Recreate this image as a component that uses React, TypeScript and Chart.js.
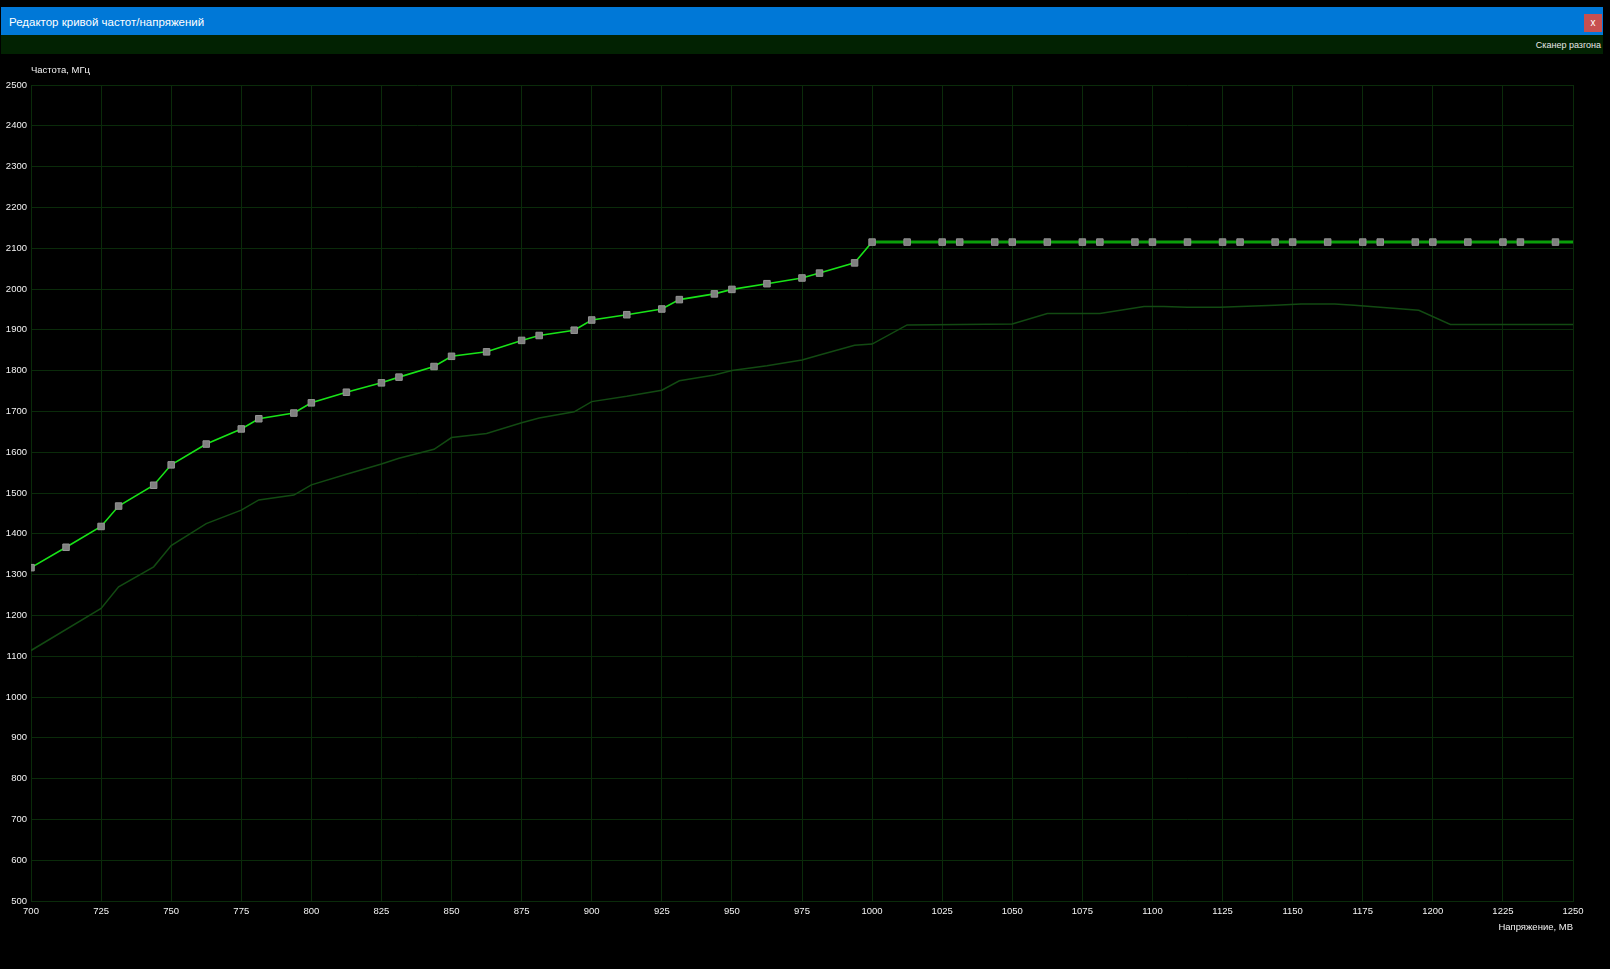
import React, { useEffect, useRef } from "react";
import { Chart, registerables } from "chart.js";

Chart.register(...registerables);

// Voltage points (mV) of the curve with markers
const curveVolts = [
  700, 712.5, 725, 731.25, 743.75, 750, 762.5, 775, 781.25, 793.75,
  800, 812.5, 825, 831.25, 843.75, 850, 862.5, 875, 881.25, 893.75,
  900, 912.5, 925, 931.25, 943.75, 950, 962.5, 975, 981.25, 993.75,
  1000, 1012.5, 1025, 1031.25, 1043.75, 1050, 1062.5, 1075, 1081.25, 1093.75,
  1100, 1112.5, 1125, 1131.25, 1143.75, 1150, 1162.5, 1175, 1181.25, 1193.75,
  1200, 1212.5, 1225, 1231.25, 1243.75,
];
// Frequencies (MHz) of the curve
const curveFreqs = [
  1317, 1367, 1418, 1468, 1519, 1569, 1620, 1657, 1682, 1696,
  1721, 1747, 1770, 1784, 1810, 1835, 1846, 1874, 1886, 1899,
  1924, 1937, 1951, 1974, 1988, 1999, 2013, 2027, 2039, 2064,
  2115, 2115, 2115, 2115, 2115, 2115, 2115, 2115, 2115, 2115,
  2115, 2115, 2115, 2115, 2115, 2115, 2115, 2115, 2115, 2115,
  2115, 2115, 2115, 2115, 2115,
];
// the flat part continues to the right edge
const curveEndVolt = 1250;
const curveEndFreq = 2115;
const flatStartVolt = 1000;

// Dim (current) curve
const dimVolts = [
  700, 725, 731.25, 743.75, 750, 762.5, 775, 781.25, 793.75, 800,
  812.5, 825, 831.25, 843.75, 850, 862.5, 875, 881.25, 893.75, 900,
  912.5, 925, 931.25, 943.75, 950, 962.5, 975, 981.25, 993.75, 1000,
  1012.5, 1050, 1062.5, 1081.25, 1097, 1104, 1112.5, 1124, 1143.75, 1153,
  1165, 1172, 1195, 1206.25, 1250,
];
const dimFreqs = [
  1114, 1217, 1270, 1319, 1371, 1425, 1458, 1483, 1495, 1520,
  1546, 1571, 1585, 1607, 1636, 1646, 1672, 1684, 1699, 1724,
  1737, 1752, 1775, 1789, 1800, 1812, 1826, 1838, 1862, 1865,
  1912, 1914, 1940, 1940, 1957, 1957, 1955, 1955, 1960, 1963,
  1963, 1960, 1948, 1913, 1913,
];

const xMin = 700;
const xMax = 1250;
const xStep = 25;
const yMin = 500;
const yMax = 2500;
const yStep = 100;

const windowTitle = "Редактор кривой частот/напряжений";
const scannerLabel = "Сканер разгона";
const yTitle = "Частота, МГц";
const xTitle = "Напряжение, МВ";

const FONT = "'Liberation Sans', Arial, sans-serif";

export default function App() {
  const ref = useRef<HTMLCanvasElement | null>(null);

  useEffect(() => {
    document.body.style.margin = "0";
    document.body.style.background = "#000";
    const canvas = ref.current;
    if (!canvas) return;

    const rising = curveVolts
      .map((v, i) => ({ x: v, y: curveFreqs[i] }))
      .filter((p) => p.x <= flatStartVolt);
    const flat = curveVolts
      .map((v, i) => ({ x: v, y: curveFreqs[i] }))
      .filter((p) => p.x >= flatStartVolt);
    flat.push({ x: curveEndVolt, y: curveEndFreq });
    const markers = curveVolts.map((v, i) => ({ x: v, y: curveFreqs[i] }));
    const dim = dimVolts.map((v, i) => ({ x: v, y: dimFreqs[i] }));

    const titles = {
      id: "axisTitles",
      afterDraw(chart: any) {
        const { ctx, chartArea } = chart;
        ctx.save();
        ctx.font = `9.5px ${FONT}`;
        ctx.fillStyle = "#f2f2f2";
        ctx.textBaseline = "middle";
        ctx.textAlign = "left";
        ctx.fillText(yTitle, chartArea.left, 70);
        ctx.textAlign = "right";
        ctx.fillText(xTitle, chartArea.right, 927);
        ctx.restore();
      },
    };

    const gridColor = "#0a2b0a";
    const plain = (v: any) => String(v);

    const chart = new Chart(canvas, {
      type: "scatter",
      data: {
        datasets: [
          {
            data: dim,
            showLine: true,
            borderColor: "#124a12",
            borderWidth: 1.5,
            pointRadius: 0,
            clip: 0,
            order: 4,
          } as any,
          {
            data: rising,
            showLine: true,
            borderColor: "#18e418",
            borderWidth: 1.6,
            pointRadius: 0,
            clip: 0,
            order: 3,
          } as any,
          {
            data: flat,
            showLine: true,
            borderColor: "#0aa00a",
            borderWidth: 3,
            pointRadius: 0,
            clip: 0,
            order: 2,
          } as any,
          {
            data: markers,
            showLine: false,
            pointStyle: "rect",
            pointRadius: 4.6,
            pointBackgroundColor: "#7f7f7f",
            pointBorderColor: "#959595",
            pointBorderWidth: 1,
            clip: 0,
            order: 1,
          } as any,
        ],
      },
      options: {
        animation: false,
        responsive: false,
        devicePixelRatio: 1,
        events: [],
        layout: { padding: { top: 85, right: 37, left: 0, bottom: 0 } },
        plugins: {
          legend: { display: false },
          tooltip: { enabled: false },
          title: { display: false },
        },
        scales: {
          x: {
            type: "linear",
            min: xMin,
            max: xMax,
            afterFit: (s: any) => {
              s.height = 68;
            },
            afterBuildTicks: (s: any) => {
              const t = [];
              for (let v = xMin; v <= xMax; v += xStep) t.push({ value: v });
              s.ticks = t;
            },
            grid: { color: gridColor, lineWidth: 1, drawTicks: false },
            border: { color: gridColor, width: 1 },
            ticks: {
              color: "#f2f2f2",
              font: { family: FONT, size: 9.5 },
              padding: 5,
              maxRotation: 0,
              autoSkip: false,
              callback: plain,
            },
          },
          y: {
            type: "linear",
            min: yMin,
            max: yMax,
            afterFit: (s: any) => {
              s.width = 31;
            },
            afterBuildTicks: (s: any) => {
              const t = [];
              for (let v = yMin; v <= yMax; v += yStep) t.push({ value: v });
              s.ticks = t;
            },
            grid: { color: gridColor, lineWidth: 1, drawTicks: false },
            border: { color: gridColor, width: 1 },
            ticks: {
              color: "#f2f2f2",
              font: { family: FONT, size: 9.5 },
              padding: 4,
              autoSkip: false,
              callback: plain,
            },
          },
        },
      },
      plugins: [titles],
    } as any);

    return () => chart.destroy();
  }, []);

  return (
    <div
      style={{
        position: "relative",
        width: 1610,
        height: 969,
        background: "#000",
        overflow: "hidden",
        fontFamily: FONT,
      }}
    >
      <canvas
        ref={ref}
        width={1610}
        height={969}
        style={{ position: "absolute", left: 0, top: 0, width: 1610, height: 969 }}
      />
      <div
        style={{
          position: "absolute",
          left: 1,
          top: 7,
          width: 1602,
          height: 28,
          background: "#0078d7",
        }}
      />
      <div
        style={{
          position: "absolute",
          left: 9,
          top: 14,
          height: 16,
          lineHeight: "16px",
          fontSize: 11.5,
          color: "#ffffff",
          whiteSpace: "nowrap",
        }}
      >
        {windowTitle}
      </div>
      <div
        style={{
          position: "absolute",
          left: 1584,
          top: 14,
          width: 18,
          height: 18,
          background: "#c75050",
          color: "#fff",
          fontSize: 10,
          lineHeight: "17px",
          textAlign: "center",
        }}
      >
        x
      </div>
      <div
        style={{
          position: "absolute",
          left: 1,
          top: 35,
          width: 1602,
          height: 19,
          background: "#022202",
        }}
      />
      <div
        style={{
          position: "absolute",
          right: 9,
          top: 39,
          height: 12,
          lineHeight: "12px",
          fontSize: 9,
          color: "#e8e8e8",
          whiteSpace: "nowrap",
        }}
      >
        {scannerLabel}
      </div>
    </div>
  );
}
